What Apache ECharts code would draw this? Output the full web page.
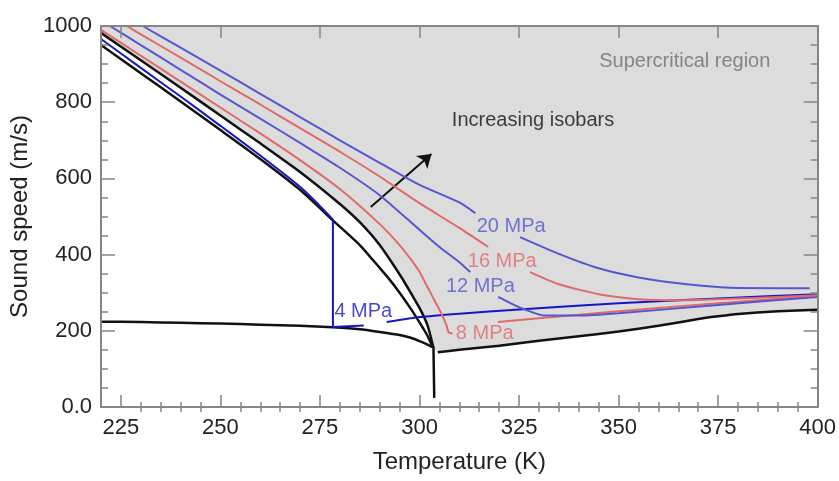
<!DOCTYPE html>
<html><head><meta charset="utf-8">
<script src="https://cdn.jsdelivr.net/npm/echarts@6/dist/echarts.min.js"></script>
<style>html,body{margin:0;padding:0;background:#fff}#c{width:839px;height:481px}</style>
</head><body><div id="c"></div>
<script>
// ---- tick values ----
const xMajorTicks = [225, 250, 275, 300, 325, 350, 375, 400];
const xMinorTicks = [230, 235, 240, 245, 255, 260, 265, 270, 280, 285, 290, 295, 305, 310, 315, 320,
  330, 335, 340, 345, 355, 360, 365, 370, 380, 385, 390, 395];

// ---- black boundary curves [T (K), c (m/s)] ----
const satLiquid = [[220,950],[230,876],[240,802],[250,727],[260,651],[270,570],[278.25,490],[285,425],
  [290,365],[292.3,337],[295,300],[298,255],[300,222],[302,187],[303.3,157]];
const critIsobar = [[220,982],[230,910],[240,838],[250,765],[260,692],[270,617],[280,533],[285,485],
  [290,425],[295.5,340],[298,296],[300,260],[302,215],[303.4,160]];
const satVapor = [[220,224],[230,223],[240,221],[250,219],[260,216],[270,213],[278.25,209],[285,204],
  [290,197],[295,189],[298,181],[300,173],[302,164],[303.4,157]];
const critDrop = [[303.5,160],[303.7,24]];
const superBoundary = [[304.6,144],[310,150],[320,161],[330,174],[340,186],[350,198],[360,213],
  [370,231],[375,238],[380,244],[390,251],[400,255]];

// ---- isobars (null = gap for label / break) ----
const p4 = [[220,966],[230,890],[240,815],[250,738],[260,660],[270,578],[274,538],[278.25,492],[278.25,null],
  [278.25,492],[278.25,210],[278.25,null],
  [278.25,210],[286,214],[288,null],
  [291.75,223],[300,236],[310,245],[325,256],[350,272],[375,285],[400,296]];
const p8 = [[220,990],[230,922],[240,854],[250,786],[260,718],[270,648],[280,572],[290,480],[295,425],
  [298,385],[300,355],[302,315],[304,275],[305.5,245],[306.75,215],[307.3,196],[308.3,193],[312,null],
  [319.75,223],[330,233],[340,242],[350,251],[375,272],[400,292]];
const p12 = [[222.25,1000],[230,950],[240,885],[250,820],[260,757],[270,693],[280,628],[290,556],[300,465],
  [305,420],[310,380],[312.75,354],[315,null],
  [319.75,289],[325,262],[331.5,240],[340,240],[350,246],[375,268],[400,289]];
const p16 = [[226.5,1000],[230,978],[240,917],[250,855],[260,794],[270,732],[280,670],[290,605],[300,535],
  [310,470],[317.25,420],[320,null],
  [327.75,354],[335,322],[345,296],[355,283],[365,280],[375,283],[400,293]];
const p20 = [[230.5,1000],[240,943],[250,883],[260,822],[270,761],[280,700],[290,641],[300,583],[310,537],
  [314,509],[318,null],
  [325.25,446],[335,402],[345,364],[355,340],[365,325],[378,313],[390,312],[398,312]];

// ---- annotations ----
const labelTexts = ['4 MPa', '8 MPa', '12 MPa', '16 MPa', '20 MPa', 'Increasing isobars', 'Supercritical region'];
const labelAnchors = [[278.5,252],[309,193],[306.5,316],[312,381],[314.25,473],[308,751],[345,906]];
const arrowFrom = [287.75, 525];
const arrowTo = [303, 664];

const FONT = '"Liberation Sans", Arial, Helvetica, sans-serif';
const AX = '#858585';
const BLACK = '#111111';
const DBLUE = '#1616c6';
const BLUE = '#5656d0';
const RED = '#e06a6a';
const labelColors = [DBLUE, RED, BLUE, RED, BLUE, '#111111', '#6e6e6e'];

const fillBoundary = critIsobar.concat(superBoundary);

function lineSeries(data, color, width, z) {
  return {
    type: 'line', data: data, xAxisIndex: 0, yAxisIndex: 0,
    symbol: 'none', smooth: 0.2, connectNulls: false,
    lineStyle: { color: color, width: width }, z: z || 3, silent: true, animation: false
  };
}

const chart = echarts.init(document.getElementById('c'), null, { renderer: 'canvas' });

const tickStyle = { color: AX, width: 1.5 };
const axisLineStyle = { color: AX, width: 2 };

const option = {
  animation: false,
  backgroundColor: '#ffffff',
  textStyle: { fontFamily: FONT },
  grid: { left: 101, right: 21, top: 26, bottom: 74, containLabel: false },
  xAxis: [
    { type: 'value', position: 'bottom', min: 220, max: 400, z: 10,
      name: 'Temperature (K)', nameLocation: 'middle', nameGap: 43,
      nameTextStyle: { fontSize: 24, color: '#222', fontFamily: FONT },
      axisLine: { show: true, onZero: false, lineStyle: axisLineStyle },
      axisTick: { show: true, inside: true, length: 12, lineStyle: tickStyle, customValues: xMajorTicks },
      axisLabel: { show: true, fontSize: 22, color: '#222', margin: 10, fontFamily: FONT, customValues: xMajorTicks },
      splitLine: { show: false } },
    { type: 'value', position: 'bottom', min: 220, max: 400, z: 10,
      axisLine: { show: false },
      axisTick: { show: true, inside: true, length: 5, lineStyle: tickStyle, customValues: xMinorTicks },
      axisLabel: { show: false }, splitLine: { show: false } },
    { type: 'value', position: 'top', min: 220, max: 400, z: 10,
      axisLine: { show: true, onZero: false, lineStyle: axisLineStyle },
      axisTick: { show: true, inside: true, length: 12, lineStyle: tickStyle, customValues: xMajorTicks },
      axisLabel: { show: false }, splitLine: { show: false } },
    { type: 'value', position: 'top', min: 220, max: 400, z: 10,
      axisLine: { show: false },
      axisTick: { show: true, inside: true, length: 5, lineStyle: tickStyle, customValues: xMinorTicks },
      axisLabel: { show: false }, splitLine: { show: false } }
  ],
  yAxis: [
    { type: 'value', position: 'left', min: 0, max: 1000, interval: 200, z: 10,
      name: 'Sound speed (m/s)', nameLocation: 'middle', nameGap: 63,
      nameTextStyle: { fontSize: 24, color: '#222', fontFamily: FONT },
      axisLine: { show: true, onZero: false, lineStyle: axisLineStyle },
      axisTick: { show: true, inside: true, length: 14, lineStyle: tickStyle },
      minorTick: { show: true, splitNumber: 4, length: 7, lineStyle: tickStyle },
      axisLabel: { show: true, fontSize: 22, color: '#222', margin: 9, fontFamily: FONT,
        formatter: function (v) { return v === 0 ? '0.0' : String(v); } },
      splitLine: { show: false }, minorSplitLine: { show: false } },
    { type: 'value', position: 'right', min: 0, max: 1000, interval: 200, z: 10,
      axisLine: { show: true, onZero: false, lineStyle: axisLineStyle },
      axisTick: { show: true, inside: true, length: 14, lineStyle: tickStyle },
      minorTick: { show: true, splitNumber: 4, length: 7, lineStyle: tickStyle },
      axisLabel: { show: false }, splitLine: { show: false }, minorSplitLine: { show: false } }
  ],
  series: [
    { type: 'line', data: fillBoundary, xAxisIndex: 0, yAxisIndex: 0, symbol: 'none',
      smooth: 0.2,
      lineStyle: { width: 0, opacity: 0 },
      areaStyle: { origin: 'end', color: '#dcdcdc', opacity: 1 }, z: 1, silent: true },
    lineSeries(satLiquid, BLACK, 2.5, 4),
    lineSeries(critIsobar, BLACK, 2.5, 4),
    lineSeries(satVapor, BLACK, 2.5, 4),
    Object.assign(lineSeries(critDrop, BLACK, 2.5, 4), { smooth: false }),
    lineSeries(superBoundary, BLACK, 2.5, 4),
    Object.assign(lineSeries(p4, DBLUE, 2, 5), { smooth: 0.15 }),
    lineSeries(p8, RED, 2, 5),
    lineSeries(p12, BLUE, 2, 5),
    lineSeries(p16, RED, 2, 5),
    lineSeries(p20, BLUE, 2, 5),
    { type: 'scatter', xAxisIndex: 0, yAxisIndex: 0, symbolSize: 1, silent: true, z: 6,
      itemStyle: { color: 'rgba(0,0,0,0)' },
      data: labelAnchors.map(function (p, i) {
        return { value: p, label: { show: true, position: 'right', distance: 0,
          formatter: labelTexts[i], color: labelColors[i], fontSize: 20, fontFamily: FONT } };
      }),
      markLine: { silent: true, symbol: ['none', 'arrow'], symbolSize: 13, animation: false,
        lineStyle: { color: BLACK, width: 2, type: 'solid' }, label: { show: false },
        data: [[{ coord: arrowFrom }, { coord: arrowTo }]] } }
  ]
};
chart.setOption(option);
</script></body></html>
